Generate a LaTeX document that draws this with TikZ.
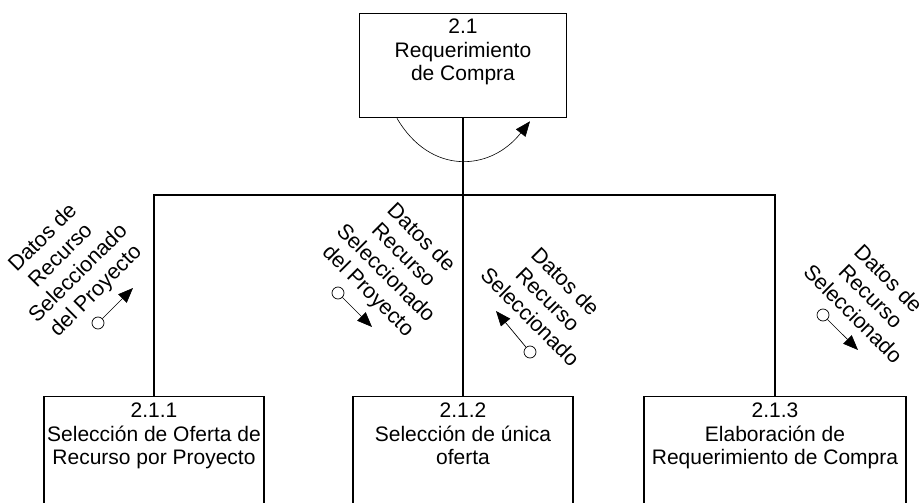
\documentclass[tikz,border=0pt]{standalone}
\usepackage{fontspec}
\setmainfont{Liberation Sans}
\usetikzlibrary{positioning, arrows.meta}

\tikzset{
  procbox/.style={draw, rectangle, line width=1.3pt, anchor=north},
  proctext/.style={anchor=north, align=center, inner sep=0pt, font=\fontsize{21}{23.5}\selectfont},
  flowlabel/.style={align=center, inner sep=0pt, font=\fontsize{21.5}{25}\selectfont},
  link/.style={line width=1.3pt},
  dataflow/.style={-{Triangle[length=15pt,width=12pt]}, line width=0.7pt},
  tail/.style={draw, circle, fill=white, minimum size=12pt, inner sep=0pt, line width=0.7pt}
}

\begin{document}
\begin{tikzpicture}[x=1pt,y=-1pt]

    \useasboundingbox (0,0) rectangle (922,503);

    % Parent process
    \node[procbox, minimum width=207pt, minimum height=104pt] (req) at (463,13) {};
    \node[proctext, below=6pt of req.north] (reqtxt) {2.1\\Requerimiento\\de Compra};

    % Child processes (cut off at the bottom edge)
    \node[procbox, minimum width=220pt, minimum height=112pt] (selofer) at (154,396) {};
    \node[procbox, minimum width=220pt, minimum height=112pt] (selunica) at (463,396) {};
    \node[procbox, minimum width=262pt, minimum height=112pt] (elabreq) at (775,396) {};
    \node[proctext, below=7pt of selofer.north] (selofertxt) {2.1.1\\Selección de Oferta de\\Recurso por Proyecto};
    \node[proctext, below=7pt of selunica.north] (selunicatxt) {2.1.2\\Selección de única\\oferta};
    \node[proctext, below=7pt of elabreq.north] (elabreqtxt) {2.1.3\\Elaboración de\\Requerimiento de Compra};

    % Tree connectors
    \coordinate (bus) at (463,195);
    \draw[link] (req.south) -- (selunica.north);
    \draw[link] (selofer.north) -- (selofer.north |- bus) -- (elabreq.north |- bus) -- (elabreq.north);

    % Loop arrow under the parent
    \draw[dataflow, line width=0.6pt] ([xshift=-66pt]req.south) .. controls (430,175) and (490,172) .. ([xshift=67pt,yshift=-3pt]req.south);

    % Data flow labels
    \node[flowlabel, rotate=45] (lbla) at (70,265) {Datos de\\Recurso\\Seleccionado\\del Proyecto};
    \node[flowlabel, rotate=-45] (lblb) at (394,265) {Datos de\\Recurso\\Seleccionado\\del Proyecto};
    \node[flowlabel, rotate=-45] (lblc) at (548,299) {Datos de\\Recurso\\Seleccionado};
    \node[flowlabel, rotate=-45] (lbld) at (871,296) {Datos de\\Recurso\\Seleccionado};

    % Data flow arrows
    \node[tail] (taila) at (98,323) {};
    \coordinate (tipa) at (133,288);
    \draw[dataflow] (taila) -- (tipa);

    \node[tail] (tailb) at (338,293) {};
    \coordinate (tipb) at (372,327);
    \draw[dataflow] (tailb) -- (tipb);

    \node[tail] (tailc) at (530,352) {};
    \coordinate (tipc) at (496,311);
    \draw[dataflow] (tailc) -- (tipc);

    \node[tail] (taild) at (823,315) {};
    \coordinate (tipd) at (858,350);
    \draw[dataflow] (taild) -- (tipd);

\end{tikzpicture}
\end{document}
